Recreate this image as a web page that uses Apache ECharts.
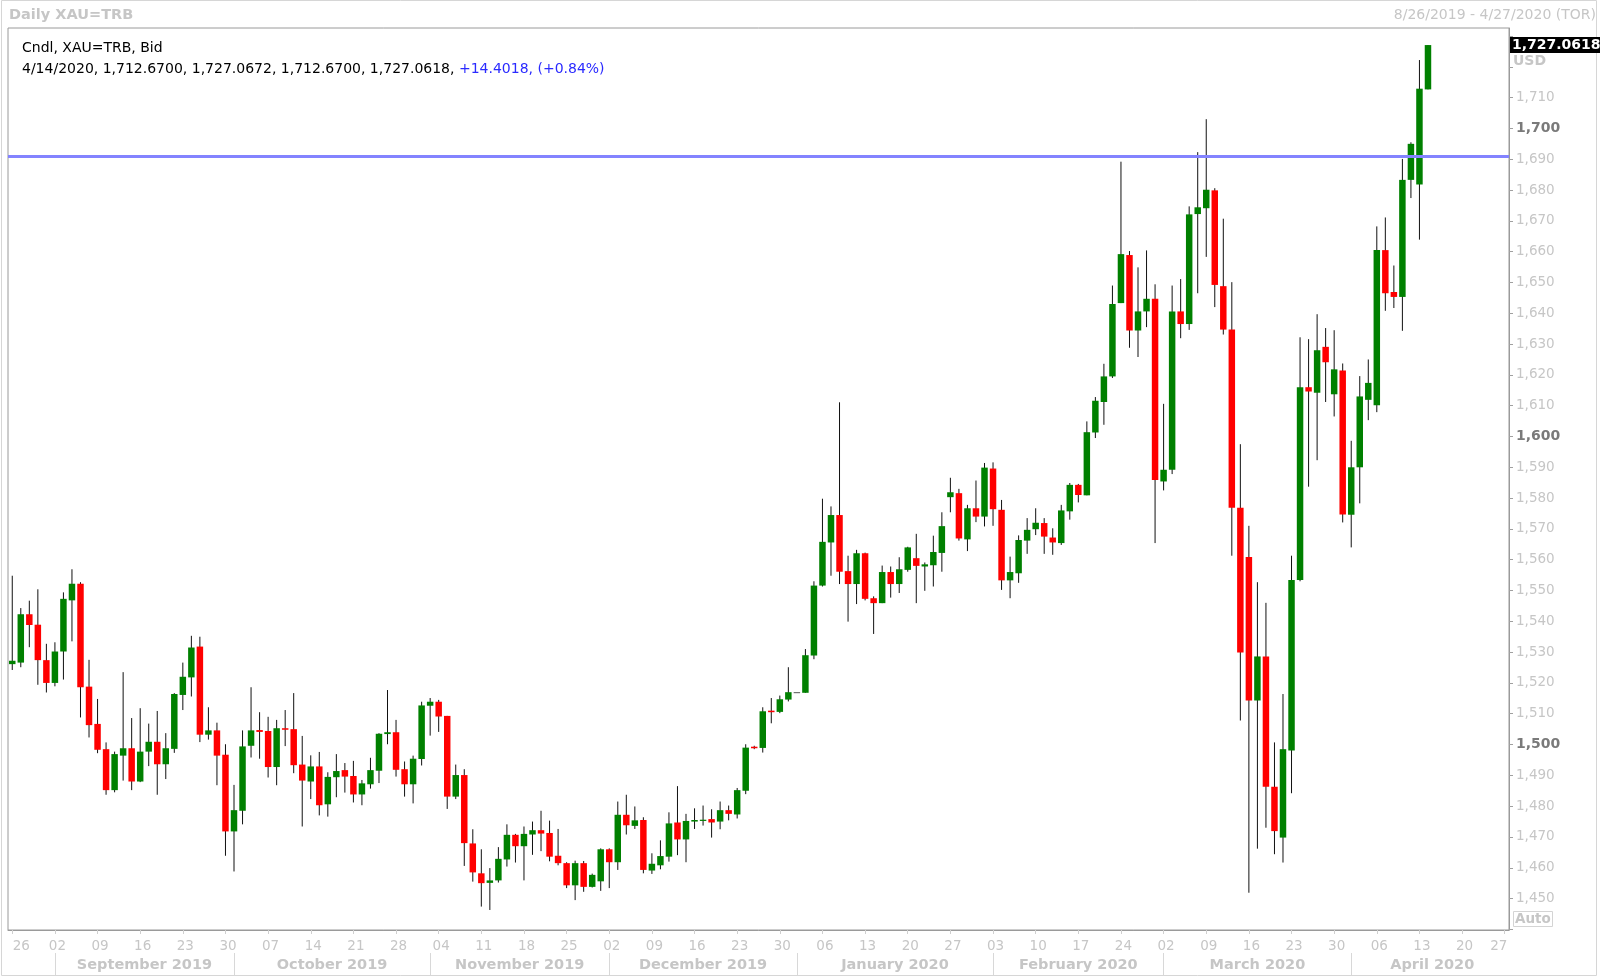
<!DOCTYPE html>
<html>
<head>
<meta charset="utf-8">
<style>
html,body{margin:0;padding:0;background:#fff;}
#chart{width:1600px;height:978px;}
</style>
<script src="https://cdn.jsdelivr.net/npm/echarts@6/dist/echarts.min.js"></script>
</head>
<body>
<div id="chart"></div>
<script>
// ---- categories: trading weekdays per month (8/26/2019 - 4/27/2020) ----
const monthDays = [
  ['2019-08', [26,27,28,29,30]],
  ['2019-09', [2,3,4,5,6,9,10,11,12,13,16,17,18,19,20,23,24,25,26,27,30]],
  ['2019-10', [1,2,3,4,7,8,9,10,11,14,15,16,17,18,21,22,23,24,25,28,29,30,31]],
  ['2019-11', [1,4,5,6,7,8,11,12,13,14,15,18,19,20,21,22,25,26,27,28,29]],
  ['2019-12', [2,3,4,5,6,9,10,11,12,13,16,17,18,19,20,23,24,25,26,27,30,31]],
  ['2020-01', [1,2,3,6,7,8,9,10,13,14,15,16,17,20,21,22,23,24,27,28,29,30,31]],
  ['2020-02', [3,4,5,6,7,10,11,12,13,14,17,18,19,20,21,24,25,26,27,28]],
  ['2020-03', [2,3,4,5,6,9,10,11,12,13,16,17,18,19,20,23,24,25,26,27,30,31]],
  ['2020-04', [1,2,3,6,7,8,9,10,13,14,15,16,17,20,21,22,23,24,27]]
];
const monthNames = ['January','February','March','April','May','June','July','August','September','October','November','December'];

// ---- daily OHLC (XAU=TRB, bid) ----
const opens = [
1526.1,1526.6,1542.3,1538.9,1527.4,1520.0,1530.2,1546.8,1552.2,1518.8,
1506.7,1498.5,1485.2,1496.4,1498.8,1488.0,1497.7,1500.9,1493.6,1498.6,
1516.1,1521.8,1531.8,1503.2,1504.6,1496.7,1471.8,1478.5,1499.6,1504.7,
1504.4,1492.7,1505.3,1505.0,1493.5,1488.0,1492.9,1480.6,1489.4,1491.7,
1489.8,1483.8,1487.1,1491.5,1503.4,1504.0,1492.0,1487.1,1495.3,1512.6,
1513.9,1509.3,1483.1,1490.1,1467.9,1458.2,1455.1,1455.9,1462.7,1470.7,
1467.0,1470.8,1472.2,1471.3,1463.9,1461.5,1454.3,1461.5,1453.8,1455.6,
1466.0,1461.8,1477.2,1473.6,1475.5,1459.1,1460.8,1463.6,1474.7,1469.2,
1475.0,1475.2,1475.8,1475.0,1478.7,1477.3,1485.0,1499.3,1498.9,1511.0,
1510.6,1514.6,1517.0,1516.8,1528.9,1551.6,1565.6,1574.5,1556.3,1552.1,
1562.1,1547.5,1545.9,1556.0,1552.1,1556.7,1560.5,1557.8,1558.2,1562.2,
1580.3,1581.6,1566.6,1576.7,1574.0,1589.6,1576.2,1553.3,1555.6,1566.2,
1569.9,1571.9,1567.2,1565.4,1575.7,1584.3,1580.9,1601.3,1611.2,1619.5,
1643.3,1658.9,1634.4,1640.6,1644.7,1585.4,1589.2,1640.6,1636.5,1672.2,
1674.1,1679.9,1648.8,1634.7,1576.9,1560.9,1514.3,1528.6,1486.3,1469.8,
1498.1,1553.4,1616.0,1614.2,1629.1,1613.7,1621.4,1574.6,1590.0,1611.9,
1610.1,1660.5,1646.9,1645.3,1683.3,1681.8,1712.67
];
const highs = [
1554.8,1544.3,1546.7,1550.4,1532.7,1533.2,1549.4,1556.9,1552.7,1527.5,
1514.8,1500.7,1497.7,1523.5,1508.6,1511.8,1506.8,1510.9,1503.7,1516.7,
1526.6,1535.3,1535.0,1512.1,1507.1,1500.1,1486.9,1504.6,1518.6,1510.5,
1509.0,1508.0,1511.2,1516.7,1502.8,1496.5,1497.6,1491.0,1496.9,1494.0,
1494.7,1488.5,1495.7,1503.7,1517.7,1508.0,1494.5,1496.4,1513.9,1515.1,
1514.5,1509.3,1493.5,1492.0,1472.5,1466.0,1459.9,1466.7,1474.1,1471.0,
1473.4,1475.0,1478.5,1475.3,1472.6,1461.8,1462.3,1462.2,1458.1,1466.3,
1466.3,1481.5,1483.7,1479.9,1476.4,1464.7,1468.9,1478.0,1486.5,1477.5,
1479.3,1480.2,1479.0,1481.5,1480.2,1485.9,1500.1,1499.6,1512.1,1515.1,
1515.9,1525.1,1517.0,1531.0,1553.0,1579.8,1577.3,1611.1,1561.3,1563.2,
1562.3,1548.1,1558.1,1557.8,1560.8,1564.2,1568.4,1559.1,1567.8,1575.4,
1586.6,1583.0,1577.8,1585.7,1591.4,1591.6,1579.4,1561.0,1567.9,1573.5,
1576.7,1573.5,1570.2,1577.8,1584.9,1584.6,1604.9,1612.8,1623.6,1649.0,
1689.2,1660.2,1654.9,1660.4,1649.4,1610.6,1649.0,1651.1,1674.7,1692.3,
1703.0,1680.6,1670.7,1650.1,1597.5,1571.0,1552.7,1546.0,1500.7,1516.4,
1561.3,1632.2,1631.6,1639.7,1635.2,1634.5,1623.7,1598.6,1619.6,1625.0,
1668.2,1671.1,1655.5,1690.1,1695.5,1722.2,1727.0672
];
const lows = [
1524.2,1525.1,1531.6,1519.4,1516.9,1518.9,1521.1,1533.5,1508.8,1502.3,
1497.2,1483.7,1484.5,1488.3,1485.2,1487.8,1493.0,1483.7,1488.8,1497.3,
1511.2,1515.6,1500.8,1501.6,1486.8,1463.9,1458.8,1474.1,1495.8,1495.4,
1489.3,1486.8,1499.5,1490.7,1473.4,1482.3,1477.0,1476.6,1482.9,1484.4,
1481.2,1480.3,1485.7,1487.5,1500.1,1489.6,1483.1,1480.9,1493.2,1502.9,
1504.1,1479.1,1482.3,1460.6,1455.5,1447.4,1446.3,1455.2,1460.4,1461.7,
1455.9,1464.2,1465.4,1462.1,1460.8,1453.4,1449.5,1452.2,1453.6,1452.5,
1453.4,1459.3,1470.8,1472.6,1458.2,1458.0,1459.5,1462.0,1464.1,1461.8,
1472.6,1473.7,1469.8,1472.5,1475.4,1476.0,1483.9,1498.5,1497.4,1506.9,
1510.2,1514.0,1517.0,1516.8,1527.7,1551.3,1554.8,1552.1,1539.9,1545.6,
1546.8,1535.9,1545.9,1547.7,1549.2,1556.1,1545.9,1549.9,1551.3,1556.1,
1575.4,1566.2,1562.8,1572.2,1570.8,1571.0,1550.2,1547.5,1552.5,1561.9,
1568.0,1561.9,1561.6,1564.8,1573.0,1578.6,1580.9,1599.5,1603.8,1619.0,
1643.3,1628.8,1625.8,1635.5,1565.4,1582.5,1587.8,1631.9,1634.6,1646.5,
1658.3,1642.0,1633.1,1561.3,1507.8,1451.9,1466.2,1473.0,1464.4,1461.7,
1484.2,1553.0,1583.7,1592.3,1611.2,1606.5,1572.1,1564.0,1578.3,1605.3,
1607.9,1640.8,1641.7,1634.3,1677.4,1663.9,1712.67
];
const closes = [
1527.2,1542.3,1538.8,1527.4,1520.0,1530.2,1547.3,1552.2,1518.6,1506.3,
1498.3,1485.2,1496.9,1498.8,1488.0,1497.7,1500.9,1493.6,1498.8,1516.4,
1522.0,1531.5,1503.2,1504.6,1496.4,1471.8,1478.7,1499.4,1504.6,1504.1,
1492.7,1505.3,1504.8,1493.3,1488.3,1492.9,1480.3,1489.5,1491.4,1489.6,
1483.8,1487.4,1491.7,1503.5,1504.0,1491.8,1487.1,1495.4,1512.7,1513.9,
1509.1,1483.1,1490.1,1468.0,1458.5,1455.0,1455.9,1462.9,1470.7,1467.0,
1471.0,1472.2,1471.1,1463.6,1461.5,1454.3,1461.5,1453.8,1457.7,1466.0,
1461.8,1477.2,1473.8,1475.4,1459.3,1461.3,1463.8,1474.4,1469.2,1475.2,
1475.5,1475.6,1474.7,1478.7,1477.5,1485.2,1499.0,1498.8,1510.8,1510.5,
1514.7,1517.0,1517.0,1529.0,1551.6,1565.8,1574.5,1556.1,1552.1,1562.1,
1547.3,1545.9,1556.0,1552.1,1556.9,1564.0,1558.0,1558.5,1562.5,1570.9,
1581.9,1566.9,1576.7,1574.0,1589.9,1576.4,1553.3,1556.0,1566.4,1569.7,
1572.0,1567.5,1565.6,1576.0,1584.3,1581.0,1601.4,1611.6,1619.5,1643.0,
1659.2,1634.4,1640.6,1644.7,1585.9,1589.2,1640.6,1636.5,1672.1,1674.4,
1680.1,1649.2,1634.7,1576.9,1529.9,1514.3,1528.6,1486.3,1471.9,1498.5,
1553.4,1616.0,1614.6,1628.0,1624.1,1621.8,1574.7,1590.0,1613.0,1617.4,
1660.5,1646.5,1645.3,1683.3,1695.0,1712.9,1727.0618
];
const levelLine = 1691;          // horizontal reference line
const lastClose = 1727.0618;
const yLabelValues = [1450,1460,1470,1480,1490,1500,1510,1520,1530,1540,1550,1560,1570,1580,1590,1600,1610,1620,1630,1640,1650,1660,1670,1680,1690,1700,1710];

// ---- build categories ----
const dates = [];
const mondayIdx = new Set();
const monthStartIdx = new Set();
const monthStarts = [];
monthDays.forEach(([ym, days], mi) => {
  const [y, m] = ym.split('-').map(Number);
  monthStarts.push({ start: dates.length, count: days.length, name: monthNames[m - 1] + ' ' + y });
  if (mi > 0) monthStartIdx.add(dates.length);
  days.forEach(d => {
    const idx = dates.length;
    dates.push(ym + '-' + String(d).padStart(2, '0'));
    if (new Date(Date.UTC(y, m - 1, d)).getUTCDay() === 1) mondayIdx.add(idx);
  });
});
// month label sits midway between its separator and the next one
const monthMid = {};
monthStarts.forEach((ms, k) => {
  if (ms.count < 10) return;
  const next = k + 1 < monthStarts.length ? monthStarts[k + 1].start : dates.length;
  const mid = (ms.start + next) / 2;
  const base = Math.floor(mid);
  monthMid[base] = { name: ms.name, half: mid - base > 0.25 };
});
const lastIdx = dates.length - 1;

const ohlc = opens.map((o, i) => [i, o, closes[i], lows[i], highs[i]]);

const FONT = '"DejaVu Sans", Tahoma, sans-serif';
const LIGHT = '#c6c6c6';
function fmt(v) { return v.toLocaleString('en-US'); }
const ySet = new Set(yLabelValues);

const chart = echarts.init(document.getElementById('chart'), null, { renderer: 'canvas' });
chart.setOption({
  animation: false,
  backgroundColor: '#ffffff',
  textStyle: { fontFamily: FONT },
  graphic: [{
    type: 'rect', silent: true, z: -1,
    shape: { x: 1.5, y: 0.5, width: 1595, height: 975 },
    style: { fill: 'none', stroke: '#d6d6d6', lineWidth: 1 }
  }],
  title: [
    { text: 'Daily XAU=TRB', left: 9, top: 8, padding: 0,
      textStyle: { color: LIGHT, fontWeight: 'bold', fontSize: 14.5, fontFamily: FONT } },
    { text: '8/26/2019 - 4/27/2020 (TOR)', right: 4, top: 8, padding: 0,
      textStyle: { color: LIGHT, fontWeight: 'normal', fontSize: 14, fontFamily: FONT } },
    { text: 'Cndl, XAU=TRB, Bid\n4/14/2020, 1,712.6700, 1,727.0672, 1,712.6700, 1,727.0618, {b|+14.4018, (+0.84%)}',
      left: 22, top: 38, padding: 0,
      textStyle: { color: '#000', fontWeight: 'normal', fontSize: 14, lineHeight: 21, fontFamily: FONT,
        rich: { b: { color: '#2a2aff', fontSize: 14, lineHeight: 21, fontFamily: FONT } } } },
    { text: 'USD', left: 1513, top: 54, padding: 0,
      textStyle: { color: LIGHT, fontWeight: 'bold', fontSize: 14, fontFamily: FONT } },
    { text: 'Auto', left: 1513, top: 911, padding: [1, 2, 1, 2], borderColor: '#d4d4d4', borderWidth: 1,
      textStyle: { color: LIGHT, fontWeight: 'bold', fontSize: 13.5, fontFamily: FONT } }
  ],
  grid: { left: 8, right: 91, top: 28, bottom: 48, show: true, borderColor: '#9a9a9a', borderWidth: 1, backgroundColor: 'transparent' },
  xAxis: [
    { type: 'category', data: dates, boundaryGap: true, position: 'bottom',
      axisLine: { show: true, lineStyle: { color: '#9a9a9a' } },
      axisTick: { show: true, alignWithLabel: true, length: 4, interval: (i) => mondayIdx.has(i), lineStyle: { color: '#cfcfcf' } },
      axisLabel: { interval: (i) => mondayIdx.has(i), margin: 9, color: LIGHT, fontSize: 13.5, fontFamily: FONT,
        formatter: (v, i) => {
          const d = v.slice(8, 10);
          if (i === 0) return '{f|' + d + '}';
          if (i === lastIdx) return '{l|' + d + '}';
          return '{n|' + d + '}';
        },
        rich: {
          n: { color: LIGHT, fontSize: 13.5, fontFamily: FONT, padding: [0, 0, 0, 5] },
          f: { color: LIGHT, fontSize: 13.5, fontFamily: FONT, padding: [0, 0, 0, 18] },
          l: { color: LIGHT, fontSize: 13.5, fontFamily: FONT, padding: [0, 12, 0, 0] }
        } },
      splitLine: { show: false } },
    { type: 'category', data: dates, boundaryGap: true, position: 'bottom', offset: 23,
      axisLine: { show: false },
      axisTick: { show: true, alignWithLabel: true, length: 22, interval: (i) => monthStartIdx.has(i), lineStyle: { color: '#d8d8d8' } },
      axisLabel: { interval: (i) => monthMid[i] !== undefined, margin: 5, color: LIGHT, fontSize: 14.5, fontWeight: 'bold', fontFamily: FONT,
        formatter: (v, i) => {
          const mm = monthMid[i];
          if (!mm) return '';
          return (mm.half ? '{h|' : '{m|') + mm.name + '}';
        },
        rich: {
          m: { color: LIGHT, fontSize: 14.5, fontWeight: 'bold', fontFamily: FONT },
          h: { color: LIGHT, fontSize: 14.5, fontWeight: 'bold', fontFamily: FONT, padding: [0, 0, 0, 8.5] }
        } },
      splitLine: { show: false } }
  ],
  yAxis: {
    type: 'value', position: 'right', min: 1439.8, max: 1732.6, splitNumber: 29, minInterval: 10, maxInterval: 10,
    scale: true,
    axisLine: { show: true, lineStyle: { color: '#9a9a9a' } },
    axisTick: { show: true, length: 4, lineStyle: { color: '#a0a0a0' } },
    splitLine: { show: false },
    axisLabel: {
      margin: 7, fontSize: 13.5, fontFamily: FONT, color: LIGHT, showMinLabel: false, showMaxLabel: false,
      formatter: (v) => {
        const r = Math.round(v);
        if (Math.abs(v - r) > 0.01 || !ySet.has(r)) return '';
        return r % 100 === 0 ? '{b|' + fmt(r) + '}' : fmt(r);
      },
      rich: { b: { color: '#7a7a7a', fontWeight: 'bold', fontSize: 14, fontFamily: FONT } }
    }
  },
  series: [
    {
      type: 'custom', name: 'XAU', xAxisIndex: 0, yAxisIndex: 0,
      data: ohlc, encode: { x: 0, y: [1, 2, 3, 4] }, clip: true,
      renderItem: function (params, api) {
        const i = api.value(0);
        const o = api.value(1), c = api.value(2), l = api.value(3), h = api.value(4);
        const pO = api.coord([i, o]), pC = api.coord([i, c]);
        const pL = api.coord([i, l]), pH = api.coord([i, h]);
        const band = api.size([1, 0])[0];
        const bw = band * 0.76;
        const cx = pO[0];
        const top = Math.min(pO[1], pC[1]);
        const hgt = Math.max(1, Math.abs(pO[1] - pC[1]));
        const fill = c > o ? '#008000' : (c < o ? '#ff0000' : '#555555');
        return {
          type: 'group',
          children: [
            { type: 'line', shape: { x1: cx, y1: pH[1], x2: cx, y2: pL[1] },
              style: { stroke: '#111111', lineWidth: 1 } },
            { type: 'rect', shape: { x: cx - bw / 2, y: top, width: bw, height: hgt },
              style: { fill: fill } }
          ]
        };
      }
    },
    {
      type: 'line', data: [], xAxisIndex: 0, yAxisIndex: 0, silent: true,
      markLine: {
        silent: true, symbol: ['none', 'none'], animation: false,
        data: [
          { yAxis: levelLine, lineStyle: { color: '#8383ff', width: 3, type: 'solid' }, label: { show: false } },
          { yAxis: lastClose, lineStyle: { color: 'rgba(0,0,0,0)', width: 1, type: 'solid' },
            label: { show: true, position: 'end', distance: 1, formatter: '1,727.0618',
              backgroundColor: '#000000', color: '#ffffff', fontWeight: 'bold', fontSize: 14, fontFamily: FONT,
              padding: [1, 3, 1, 2] } }
        ]
      }
    }
  ]
});
</script>
</body>
</html>
